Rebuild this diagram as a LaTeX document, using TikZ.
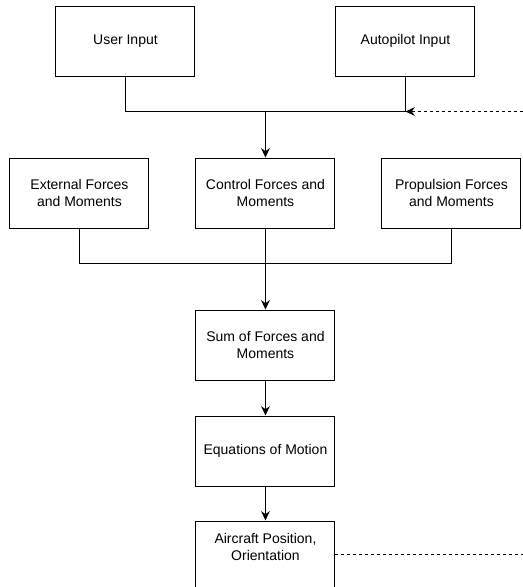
\documentclass[tikz,border=0pt]{standalone}
\usepackage{fontspec}
\setmainfont{Liberation Sans}
\usetikzlibrary{positioning,arrows.meta}

\begin{document}
\begin{tikzpicture}[font=\fontsize{10.5}{12.5}\selectfont,line width=0.75pt,
    box/.style={draw,minimum width=104.25pt,minimum height=52.5pt,align=center,inner sep=2pt},
    >={Stealth[length=7pt,width=6.5pt]}]
    %% frame
    \coordinate (nw) at (-199.1pt,144.75pt);
    \coordinate (se) at (193.1pt,-295.5pt);
    \useasboundingbox (nw) rectangle (se);
    %% boxes
    \node[box] (3) {Control Forces and\\Moments};
    \node[box,left=34.5pt of 3] (2) {External Forces\\and Moments};
    \node[box,right=34.5pt of 3] (4) {Propulsion Forces\\and Moments};
    \node[box,above left=60.75pt and 0pt of 3.north west] (0) {User Input};
    \node[box,above right=60.75pt and 0pt of 3.north east] (1) {Autopilot Input};
    \node[box,below=60.75pt of 3] (5) {Sum of Forces and\\Moments};
    \node[box,below=26.25pt of 5] (6) {Equations of Motion};
    \node[box,below=25.5pt of 6,minimum height=60pt] (7) {};
    \node[below=6pt of 7.north,align=center] (8) {Aircraft Position,\\Orientation};
    %% inputs
    \coordinate[below=26.25pt of 0.south] (j1);
    \coordinate (j2) at (3 |- j1);
    \coordinate (j3) at (1 |- j1);
    \draw (0.south) -- (j1) -- (j3) -- (1.south);
    \draw[->] (j2) -- (3);
    %% forces
    \coordinate[below=26.25pt of 2.south] (j4);
    \draw (2.south) -- (j4) -| (4.south);
    \draw[->] (3) -- (5);
    \draw[->] (5) -- (6);
    \draw[->] (6) -- (7);
    %% feedback
    \coordinate[below=25.5pt of 7.north east] (11);
    \coordinate (9) at (se |- j1);
    \coordinate (10) at (11 -| se);
    \draw[dashed,dash pattern=on 2.25pt off 2.25pt,->] (9) -- (j3);
    \draw[dashed,dash pattern=on 2.25pt off 2.25pt] (11) -- (10);
\end{tikzpicture}
\end{document}
